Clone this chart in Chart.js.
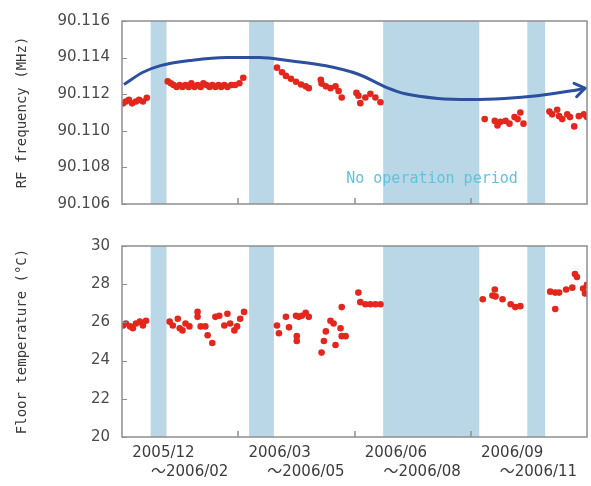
<!DOCTYPE html>
<html><head><meta charset="utf-8">
<script src="https://cdn.jsdelivr.net/npm/chart.js@4"></script>
<style>body{margin:0;background:#fff}canvas{position:absolute;left:0}</style>
</head><body>
<canvas id="c1" width="591" height="225" style="top:0"></canvas>
<canvas id="c2" width="591" height="261" style="top:225px"></canvas>
<script>
// x = months since 2005/12/01
const quarterCenters = [1.5, 4.5, 7.5, 10.5];
const quarterLabels = [
  ["2005/12       ", "    〜2006/02"],
  ["2006/03       ", "    〜2006/05"],
  ["2006/06       ", "    〜2006/08"],
  ["2006/09       ", "    〜2006/11"]
];
const quarterBounds = [3, 6, 9];
const bandStart = [0.74, 3.28, 6.74, 10.46];
const bandEnd   = [1.15, 3.92, 9.22, 10.92];

const rfTickValues = [90.106, 90.108, 90.110, 90.112, 90.114, 90.116];
const tempTickValues = [20, 22, 24, 26, 28, 30];

const rfMonths = [0.03,0.10,0.18,0.26,0.36,0.44,0.54,0.64,
  1.18,1.26,1.33,1.41,1.49,1.56,1.64,1.72,1.79,1.87,1.95,2.03,2.10,2.18,2.26,2.33,2.41,2.49,2.56,2.64,2.72,2.82,2.92,3.03,3.13,
  4.00,4.13,4.23,4.36,4.49,4.62,4.74,4.82,5.13,5.15,5.26,5.38,5.51,5.59,5.67,6.05,6.10,6.15,6.28,6.41,6.54,6.67,
  9.36,9.62,9.69,9.77,9.90,10.00,10.13,10.21,10.28,10.36,
  11.03,11.10,11.23,11.28,11.36,11.49,11.56,11.67,11.79,11.92,12.00];
const rfValues = [90.1115,90.1116,90.1117,90.1115,90.1116,90.1117,90.1116,90.1118,
  90.1127,90.1126,90.1125,90.1124,90.1125,90.1124,90.1125,90.1124,90.1126,90.1124,90.1125,90.1124,90.1126,90.1125,90.1124,90.1125,90.1124,90.1125,90.1124,90.1125,90.1124,90.1125,90.1125,90.1126,90.1129,
  90.11345,90.1132,90.1130,90.11284,90.11268,90.11253,90.11243,90.11233,90.11279,90.11258,90.11243,90.11233,90.11243,90.11217,90.11182,90.11207,90.11192,90.11151,90.11182,90.11202,90.11182,90.11156,
  90.11064,90.11054,90.11029,90.11049,90.11054,90.11039,90.11075,90.11064,90.1110,90.11039,
  90.11105,90.1109,90.11115,90.1108,90.11064,90.1109,90.11075,90.11024,90.1108,90.1109,90.11075];

const trendMonths = [0.05,0.54,0.97,1.82,2.69,3.54,4.38,5.26,6.10,6.87,7.31,8.15,9.00,9.87,10.72,11.56,11.95];
const trendValues = [90.11253,90.1132,90.11355,90.11386,90.11401,90.11401,90.11381,90.11355,90.11309,90.11233,90.11202,90.11177,90.11171,90.11177,90.11192,90.11217,90.11233];

const tempMonths = [0.03,0.10,0.21,0.28,0.36,0.46,0.54,0.62,
  1.23,1.31,1.44,1.49,1.56,1.64,1.74,1.95,1.95,2.03,2.15,2.21,2.33,2.41,2.51,2.64,2.72,2.79,2.90,2.97,3.05,3.15,
  4.00,4.05,4.23,4.31,4.49,4.51,4.51,4.56,4.64,4.74,4.82,
  5.15,5.21,5.26,5.38,5.46,5.51,5.64,5.67,5.77,5.67,
  6.10,6.15,6.28,6.41,6.54,6.67,
  9.31,9.56,9.62,9.64,9.82,10.03,10.15,10.28,
  11.05,11.18,11.28,11.18,11.46,11.62,11.69,11.74,11.90,11.95,12.00];
const tempValues = [25.84,25.94,25.79,25.69,25.94,26.04,25.84,26.09,
  26.04,25.84,26.19,25.69,25.58,25.94,25.79,26.55,26.29,25.79,25.79,25.33,24.92,26.29,26.35,25.84,26.45,25.94,25.58,25.79,26.19,26.55,
  25.84,25.43,26.29,25.74,26.35,25.28,25.03,26.29,26.35,26.50,26.29,
  24.42,25.03,25.53,26.09,25.94,24.82,25.69,25.28,25.28,26.80,
  27.56,27.06,26.95,26.95,26.95,26.95,
  27.21,27.41,27.72,27.36,27.21,26.95,26.80,26.85,
  27.61,27.56,27.56,26.70,27.72,27.82,28.53,28.38,27.77,27.51,27.97];

const noteText = "No operation period";
const noteMonth = 8.0, noteValue = 90.10738;

const DOT = '#e4261c', FRAME = '#8f8f8f', BAND = '#bad7e7', TXT = '#3a3a3a';

const pairs = (xs, ys) => xs.map((x, i) => ({x, y: ys[i]}));

const decor = {
  id: 'decor',
  beforeDatasetsDraw(chart) {
    const {ctx, chartArea: a, scales: {x}} = chart;
    ctx.save();
    ctx.fillStyle = BAND;
    bandStart.forEach((s, i) => {
      const x0 = x.getPixelForValue(s), x1 = x.getPixelForValue(bandEnd[i]);
      ctx.fillRect(x0, a.top, x1 - x0, a.bottom - a.top);
    });
    const opts = chart.options.plugins.decor || {};
    if (opts.note) {
      ctx.fillStyle = '#62c2dc';
      ctx.font = '15px "DejaVu Sans Mono"';
      ctx.textAlign = 'center'; ctx.textBaseline = 'middle';
      ctx.fillText(noteText, x.getPixelForValue(noteMonth), chart.scales.y.getPixelForValue(noteValue));
    }
    ctx.restore();
  },
  afterDatasetsDraw(chart) {
    const {ctx, chartArea: a, scales: {x, y}} = chart;
    ctx.save();
    ctx.strokeStyle = FRAME; ctx.lineWidth = 1.5;
    ctx.strokeRect(a.left, a.top, a.right - a.left, a.bottom - a.top);
    ctx.lineWidth = 1;
    y.ticks.forEach(t => {
      const py = Math.round(y.getPixelForValue(t.value)) + 0.5;
      ctx.beginPath(); ctx.moveTo(a.left, py); ctx.lineTo(a.left + 5, py); ctx.stroke();
    });
    ctx.lineWidth = 1.5;
    quarterBounds.forEach(v => {
      const px = Math.round(x.getPixelForValue(v));
      ctx.beginPath(); ctx.moveTo(px, a.bottom); ctx.lineTo(px, a.bottom - 6); ctx.stroke();
    });
    const opts = chart.options.plugins.decor || {};
    if (opts.arrow) {
      const meta = chart.getDatasetMeta(1);
      const pts = meta.data;
      const p = pts[pts.length - 1], q = pts[pts.length - 2];
      const ang = Math.atan2(p.y - q.y, p.x - q.x);
      ctx.strokeStyle = '#2c4f9e'; ctx.lineWidth = 3; ctx.lineCap = 'round'; ctx.lineJoin = 'round';
      ctx.beginPath();
      ctx.moveTo(p.x - 12 * Math.cos(ang - 0.6), p.y - 12 * Math.sin(ang - 0.6));
      ctx.lineTo(p.x, p.y);
      ctx.lineTo(p.x - 12 * Math.cos(ang + 0.6), p.y - 12 * Math.sin(ang + 0.6));
      ctx.stroke();
    }
    ctx.restore();
  }
};

const yTickFont = {family: '"DejaVu Sans"', size: 15};
const titleFont = {family: '"DejaVu Sans Mono"', size: 14};

function yScale(min, max, tickValues, title, fmt) {
  return {
    min, max,
    afterBuildTicks: s => { s.ticks = tickValues.map(v => ({value: v})); },
    afterFit: s => { s.width = 122; },
    grid: {display: false, drawTicks: false},
    border: {display: false},
    ticks: {color: '#4a4a4a', font: yTickFont, padding: 12, callback: fmt},
    title: {display: true, text: title, color: TXT, font: titleFont, padding: {top: 14, bottom: 0}}
  };
}

new Chart(document.getElementById('c1'), {
  type: 'scatter',
  data: {datasets: [
    {data: pairs(rfMonths, rfValues), backgroundColor: DOT, borderWidth: 0, pointRadius: 3.3},
    {type: 'line', data: pairs(trendMonths, trendValues), borderColor: '#2c4f9e', borderWidth: 3,
     pointRadius: 0, fill: false, cubicInterpolationMode: 'monotone'}
  ]},
  options: {
    responsive: false, animation: false, events: [],
    layout: {padding: {top: 15, right: 1, bottom: 14, left: 0}},
    plugins: {legend: {display: false}, tooltip: {enabled: false}, decor: {note: true, arrow: true}},
    scales: {
      x: {type: 'linear', min: 0, max: 12, display: false},
      y: yScale(90.106, 90.116, rfTickValues, 'RF frequency (MHz)', v => Number(v).toFixed(3))
    }
  },
  plugins: [decor]
});

new Chart(document.getElementById('c2'), {
  type: 'scatter',
  data: {datasets: [
    {data: pairs(tempMonths, tempValues), backgroundColor: DOT, borderWidth: 0, pointRadius: 3.3}
  ]},
  options: {
    responsive: false, animation: false, events: [],
    layout: {padding: {top: 15, right: 1, bottom: 0, left: 0}},
    plugins: {legend: {display: false}, tooltip: {enabled: false}, decor: {}},
    scales: {
      x: {type: 'linear', min: 0, max: 12,
        afterBuildTicks: s => { s.ticks = quarterCenters.map(v => ({value: v})); },
        afterFit: s => { s.height = 49; },
        grid: {display: false, drawTicks: false},
        border: {display: false},
        ticks: {color: '#3c3c3c', font: {family: '"DejaVu Sans", "Noto Sans CJK JP"', size: 15, lineHeight: 1.3}, padding: 6,
          maxRotation: 0, autoSkip: false,
          callback: (v) => quarterLabels[quarterCenters.indexOf(v)]}
      },
      y: yScale(20, 30, tempTickValues, 'Floor temperature (°C)', v => String(v))
    }
  },
  plugins: [decor]
});
</script>
</body></html>
